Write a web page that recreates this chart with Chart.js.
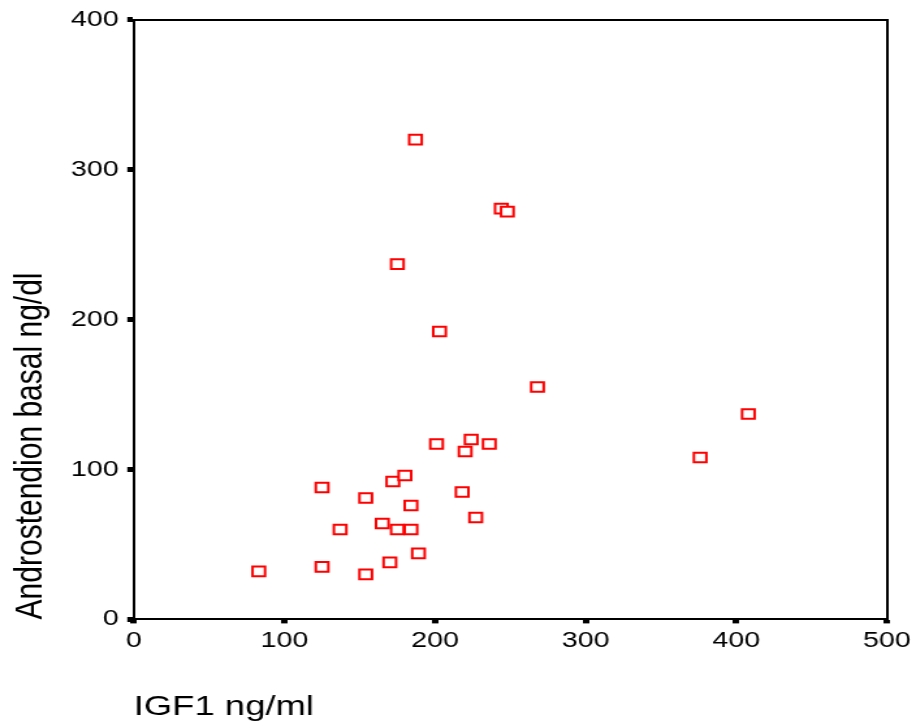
<!DOCTYPE html>
<html>
<head>
<meta charset="utf-8">
<script src="https://cdn.jsdelivr.net/npm/chart.js@4.4.0/dist/chart.umd.min.js"></script>
<style>
  html, body { margin: 0; padding: 0; background: #fff; overflow: hidden; }
  /* the reference is stretched sideways, so the chart is drawn narrower and widened */
  #wrap { width: 704px; height: 722px; transform: scaleX(1.30114); transform-origin: 0 0; }
</style>
</head>
<body>
<div id="wrap"><canvas id="chart"></canvas></div>
<script>
// IGF1 (ng/ml) for each patient
const igf1 = [83, 125, 125, 137, 154, 154, 165, 170, 172, 175, 175, 180, 184, 184,
  187, 189, 201, 203, 218, 220, 224, 227, 236, 244, 248, 268, 376, 408];
// Androstendion basal (ng/dl), same order
const androstendion = [32, 88, 35, 60, 81, 30, 64, 38, 92, 60, 237, 96, 60, 76,
  320, 44, 117, 192, 85, 112, 120, 68, 117, 274, 272, 155, 108, 137];

const xTitle = 'IGF1 ng/ml';
const yTitle = 'Androstendion basal ng/dl';
const xRange = [0, 500];
const yRange = [0, 400];
const tickStep = 100;

const points = igf1.map((x, i) => ({ x: x, y: androstendion[i] }));

const font = 'Liberation Sans, Arial, sans-serif';
const narrowFont = 'Liberation Sans Narrow, Arial Narrow, ' + font;

// plain frame line for the top and right sides
function frameAxis(position) {
  return {
    type: 'linear',
    position: position,
    min: 0,
    max: 1,
    ticks: { display: false },
    grid: { display: false, drawTicks: false },
    border: { display: true, color: '#000', width: 2 }
  };
}

function drawChart() {
  new Chart(document.getElementById('chart'), {
    type: 'scatter',
    data: {
      datasets: [{
        data: points,
        pointStyle: 'rect',
        pointRadius: 6.8,
        pointBorderWidth: 2,
        pointBorderColor: '#ff0000',
        pointBackgroundColor: '#ffffff'
      }]
    },
    options: {
      responsive: true,
      maintainAspectRatio: false,
      animation: false,
      layout: { padding: { left: 0, top: 17, right: 18, bottom: 0 } },
      plugins: {
        legend: { display: false },
        tooltip: { enabled: false }
      },
      scales: {
        x: {
          type: 'linear',
          min: xRange[0],
          max: xRange[1],
          ticks: { stepSize: tickStep, padding: 4, maxRotation: 0, color: '#000', font: { family: font, size: 22 } },
          grid: { drawOnChartArea: false, drawTicks: true, tickLength: 4, tickWidth: 5, tickColor: '#000' },
          border: { display: true, color: '#000', width: 2 },
          title: {
            display: true,
            text: xTitle,
            align: 'start',
            color: '#000',
            font: { family: font, size: 28 },
            padding: { top: 32.6, bottom: -2 }
          }
        },
        y: {
          type: 'linear',
          min: yRange[0],
          max: yRange[1],
          ticks: { stepSize: tickStep, padding: 6.5, color: '#000', font: { family: font, size: 22 } },
          grid: { drawOnChartArea: false, drawTicks: true, tickLength: 5, tickWidth: 5, tickColor: '#000' },
          border: { display: true, color: '#000', width: 2 },
          title: {
            display: true,
            text: yTitle,
            align: 'start',
            color: '#000',
            font: { family: narrowFont, size: 30 },
            padding: { top: 5.5, bottom: 6.6 }
          }
        },
        top: frameAxis('top'),
        right: frameAxis('right')
      }
    }
  });
}

// make sure the system faces are ready before the canvas measures text
Promise.all([
  document.fonts.load('22px "Liberation Sans"'),
  document.fonts.load('30px "Liberation Sans Narrow"')
]).then(drawChart, drawChart);
</script>
</body>
</html>
